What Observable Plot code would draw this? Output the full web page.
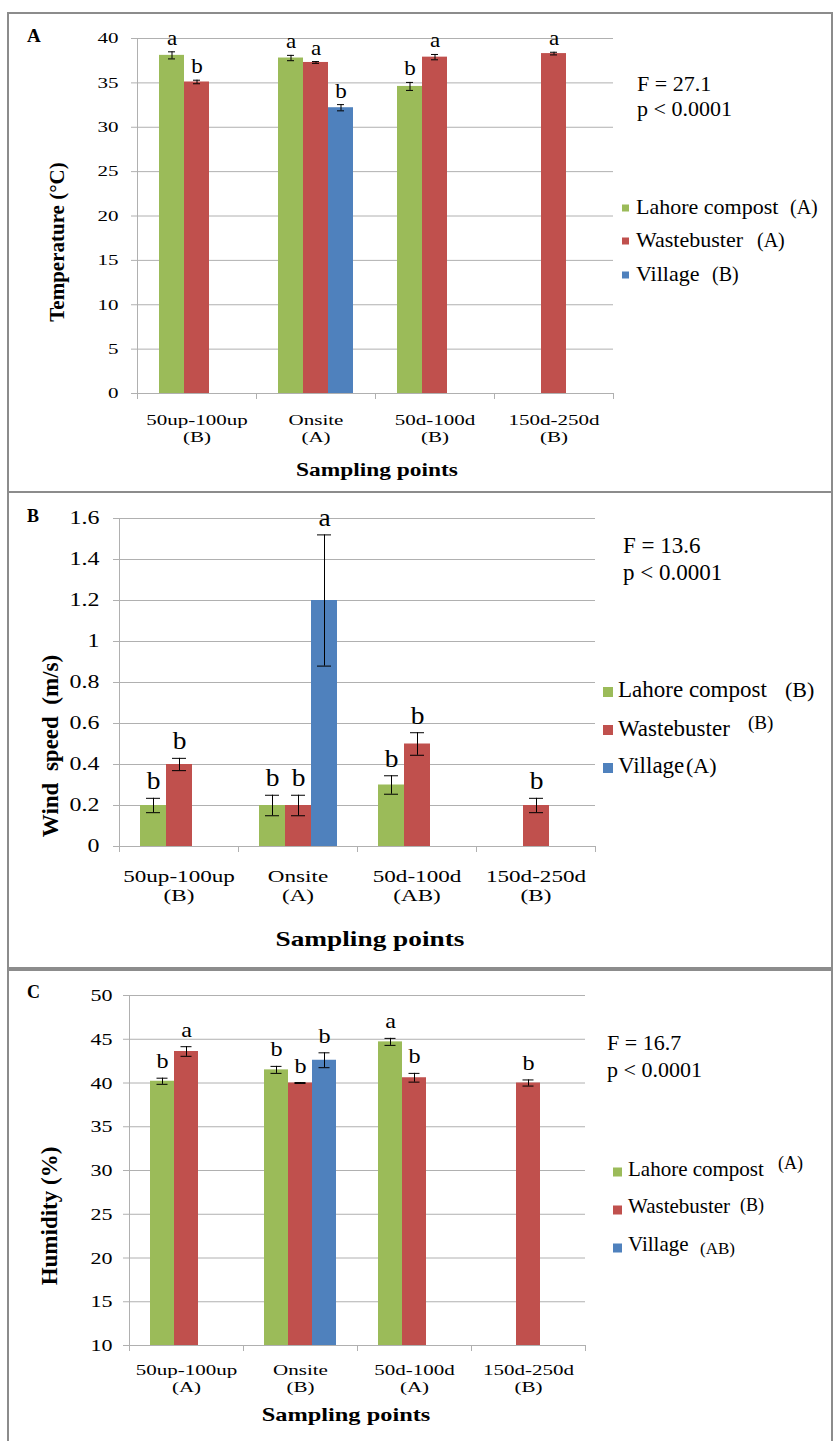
<!DOCTYPE html>
<html><head><meta charset="utf-8">
<script src="https://cdn.jsdelivr.net/npm/d3@7"></script>
<script src="https://cdn.jsdelivr.net/npm/@observablehq/plot@0.6"></script>
<style>
html,body{margin:0;padding:0;background:#fff;}
#root{position:relative;width:834px;height:1441px;overflow:hidden;background:#fff;}
</style></head><body><div id="root"></div>
<script>
// ---------- shared ----------
const categories = ["50up-100up", "Onsite", "50d-100d", "150d-250d"];
const seriesNames = ["Lahore compost", "Wastebuster", "Village"];
const seriesColors = ["#9BBB59", "#C0504D", "#4F81BD"];

// ---------- Panel A : temperature ----------
const tempLahore = [38.1, 37.8, 34.6, null];
const tempWaste = [35.1, 37.3, 37.9, 38.3];
const tempVillage = [null, 32.2, null, null];
const tempLahoreSE = [0.4, 0.3, 0.45, null];
const tempWasteSE = [0.2, 0.1, 0.3, 0.15];
const tempVillageSE = [null, 0.35, null, null];
const tempLahoreSig = ["a", "a", "b", null];
const tempWasteSig = ["b", "a", "a", "a"];
const tempVillageSig = [null, "b", null, null];
const tempSiteGroups = ["(B)", "(A)", "(B)", "(B)"];
const tempSeriesGroups = ["(A)", "(A)", "(B)"];
const tempTicks = [0, 5, 10, 15, 20, 25, 30, 35, 40];
const tempStats = ["F = 27.1", "p < 0.0001"];
const tempTitle = "Temperature (\u00B0C)";

// ---------- Panel B : wind speed ----------
const windLahore = [0.2, 0.2, 0.3, null];
const windWaste = [0.4, 0.2, 0.5, 0.2];
const windVillage = [null, 1.2, null, null];
const windLahoreSE = [0.035, 0.05, 0.045, null];
const windWasteSE = [0.03, 0.05, 0.055, 0.035];
const windVillageSE = [null, 0.32, null, null];
const windLahoreSig = ["b", "b", "b", null];
const windWasteSig = ["b", "b", "b", "b"];
const windVillageSig = [null, "a", null, null];
const windSiteGroups = ["(B)", "(A)", "(AB)", "(B)"];
const windSeriesGroups = ["(B)", "(B)", "(A)"];
const windTicks = [0, 0.2, 0.4, 0.6, 0.8, 1, 1.2, 1.4, 1.6];
const windStats = ["F = 13.6", "p < 0.0001"];
const windTitle = "Wind\u00A0\u00A0speed\u00A0\u00A0(m/s)";

// ---------- Panel C : humidity ----------
const humLahore = [40.2, 41.5, 44.7, null];
const humWaste = [43.6, 40.0, 40.6, 40.0];
const humVillage = [null, 42.6, null, null];
const humLahoreSE = [0.35, 0.4, 0.4, null];
const humWasteSE = [0.55, 0.05, 0.5, 0.35];
const humVillageSE = [null, 0.85, null, null];
const humLahoreSig = ["b", "b", "a", null];
const humWasteSig = ["a", "b", "b", "b"];
const humVillageSig = [null, "b", null, null];
const humSiteGroups = ["(A)", "(B)", "(A)", "(B)"];
const humSeriesGroups = ["(A)", "(B)", "(AB)"];
const humTicks = [10, 15, 20, 25, 30, 35, 40, 45, 50];
const humStats = ["F = 16.7", "p < 0.0001"];
const humTitle = "Humidity (%)";

const xTitle = "Sampling points";
const panelLetters = ["A", "B", "C"];

// ---------- helpers ----------
const GRID = "#b0b0b0";
const FONT = "'Liberation Serif','Times New Roman',serif";
const root = document.getElementById("root");

function buildRows(vals, errs, sigs) {
  const out = [];
  seriesNames.forEach((s, si) => categories.forEach((c, ci) => {
    const v = vals[si][ci];
    if (v == null) return;
    out.push({cat: c, series: s, value: v, err: errs[si][ci], sig: sigs[si][ci]});
  }));
  return out;
}

function stretchNode(n, f) {
  const len = n.getComputedTextLength();
  if (len > 0) {
    n.setAttribute("textLength", (len * f).toFixed(2));
    n.setAttribute("lengthAdjust", "spacingAndGlyphs");
  }
}
function stretchTexts(svg, label, f) {
  svg.querySelectorAll(`g[aria-label="${label}"] text`).forEach(t => {
    const spans = t.querySelectorAll("tspan");
    if (spans.length) spans.forEach(s => stretchNode(s, f));
    else stretchNode(t, f);
  });
}

function makePanel(cfg) {
  const data = cfg.rows;
  const labelMap = new Map(categories.map((c, i) => [c, c + "\n" + cfg.siteGroups[i]]));
  const lo = d => d.value - d.err, hi = d => d.value + d.err;
  const chart = Plot.plot({
    width: 834, height: cfg.height,
    marginLeft: cfg.ml, marginRight: cfg.mr, marginTop: cfg.mt, marginBottom: cfg.mb,
    style: {fontFamily: FONT, background: "transparent", color: "#000"},
    fx: {domain: categories, padding: 0, label: null},
    x: {domain: seriesNames, paddingInner: 0, paddingOuter: cfg.po, axis: null},
    y: {domain: cfg.domain, label: null},
    color: {domain: seriesNames, range: seriesColors},
    marks: [
      Plot.gridY({ticks: cfg.ticks, stroke: GRID, strokeOpacity: 1}),
      Plot.barY(data, {fx: "cat", x: "series", y1: cfg.domain[0], y2: "value", fill: "series"}),
      Plot.ruleY([cfg.domain[0]], {stroke: GRID}),
      Plot.ruleX(data, {fx: "cat", x: "series", y1: lo, y2: hi, stroke: "#000", strokeWidth: 1}),
      Plot.tickY(data, {fx: "cat", x: "series", y: hi, stroke: "#000", insetLeft: cfg.cap, insetRight: cfg.cap}),
      Plot.tickY(data, {fx: "cat", x: "series", y: lo, stroke: "#000", insetLeft: cfg.cap, insetRight: cfg.cap}),
      Plot.text(data.filter(d => d.sig), {fx: "cat", x: "series", y: hi, text: "sig", lineAnchor: "bottom",
        dy: cfg.letterDy, fontSize: cfg.letterSize, fill: "#000"}),
      Plot.axisY({ticks: cfg.ticks, tickSize: 6, tickPadding: cfg.yPad, fontSize: cfg.yFont,
        stroke: GRID, fill: "#000", label: null, tickFormat: d => String(d)}),
      Plot.axisFx({anchor: "bottom", tickSize: 0, tickPadding: cfg.xPad, fontSize: cfg.xFont,
        lineHeight: cfg.xLH, fill: "#000", label: null, tickFormat: d => labelMap.get(d)})
    ]
  });
  chart.style.position = "absolute";
  chart.style.left = "0px";
  chart.style.top = cfg.top + "px";
  root.appendChild(chart);

  // axis line on the left + category boundary ticks (Excel style), from the chart's own scales
  const fx = chart.scale("fx"), y = chart.scale("y");
  const fxAt = c => fx.apply ? fx.apply(c) : fx.range[0] + categories.indexOf(c) * fx.step;
  const y0 = y.apply(cfg.domain[0]), y1 = y.apply(cfg.domain[1]);
  const xs = categories.map(fxAt);
  xs.push(xs[xs.length - 1] + fx.bandwidth);
  const g = d3.select(chart).append("g").attr("stroke", GRID).attr("stroke-width", 1);
  g.append("line").attr("x1", xs[0] + 0.5).attr("x2", xs[0] + 0.5).attr("y1", y1).attr("y2", y0);
  xs.forEach(x => g.append("line").attr("x1", x + 0.5).attr("x2", x + 0.5).attr("y1", y0).attr("y2", y0 + 6));

  stretchTexts(chart, "y-axis tick label", cfg.yStretch);
  stretchTexts(chart, "fx-axis tick label", cfg.xStretch);
  stretchTexts(chart, "text", 1.1);
  return chart;
}

makePanel({
  rows: buildRows([tempLahore, tempWaste, tempVillage], [tempLahoreSE, tempWasteSE, tempVillageSE],
                  [tempLahoreSig, tempWasteSig, tempVillageSig]),
  siteGroups: tempSiteGroups, ticks: tempTicks, domain: [0, 40],
  top: 0, height: 492, ml: 137, mr: 221, mt: 38, mb: 99, po: 0.79, cap: 9,
  letterSize: 21, letterDy: -7, yFont: 15, yPad: 13, yStretch: 1.4,
  xFont: 15, xPad: 20, xLH: 1.1, xStretch: 1.4
});
makePanel({
  rows: buildRows([windLahore, windWaste, windVillage], [windLahoreSE, windWasteSE, windVillageSE],
                  [windLahoreSig, windWasteSig, windVillageSig]),
  siteGroups: windSiteGroups, ticks: windTicks, domain: [0, 1.6],
  top: 492, height: 476, ml: 117, mr: 238, mt: 26, mb: 122, po: 0.72, cap: 6,
  letterSize: 25, letterDy: -9, yFont: 18, yPad: 14, yStretch: 1.33,
  xFont: 16.5, xPad: 23, xLH: 1.1, xStretch: 1.4
});
makePanel({
  rows: buildRows([humLahore, humWaste, humVillage], [humLahoreSE, humWasteSE, humVillageSE],
                  [humLahoreSig, humWasteSig, humVillageSig]),
  siteGroups: humSiteGroups, ticks: humTicks, domain: [10, 50],
  top: 968, height: 473, ml: 127, mr: 248, mt: 27, mb: 96, po: 0.8, cap: 6.5,
  letterSize: 22, letterDy: -10, yFont: 17.5, yPad: 11, yStretch: 1.26,
  xFont: 15, xPad: 18, xLH: 1.1, xStretch: 1.4
});

// ---------- annotations overlay (borders, titles, legends, statistics) ----------
const ov = d3.select(root).append("svg").attr("width", 834).attr("height", 1441)
  .style("position", "absolute").style("left", "0px").style("top", "0px")
  .style("pointer-events", "none").style("font-family", FONT);

function txt(x, y, s, o = {}) {
  const t = ov.append("text").attr("x", x).attr("y", y).text(s)
    .attr("font-size", o.size || 16).attr("fill", "#000")
    .attr("font-weight", o.bold ? "bold" : null)
    .attr("text-anchor", o.anchor || "start").style("white-space", "pre");
  if (o.rotate) t.attr("transform", `rotate(-90 ${x} ${y})`).attr("dominant-baseline", "central");
  if (o.stretch) stretchNode(t.node(), o.stretch);
  return t;
}

// panel borders
[[13, 492], [492, 968], [970, 1450]].forEach(([t, b]) => {
  ov.append("rect").attr("x", 8).attr("y", t).attr("width", 824).attr("height", b - t)
    .attr("fill", "none").attr("stroke", "#8c8c8c").attr("stroke-width", 2);
});

// panel letters
txt(27, 42, panelLetters[0], {size: 19, bold: true});
txt(27, 522, panelLetters[1], {size: 18, bold: true});
txt(27, 998, panelLetters[2], {size: 18, bold: true});

// y titles
txt(57, 242, tempTitle, {size: 21, bold: true, rotate: true, anchor: "middle"});
txt(50, 746, windTitle, {size: 23, bold: true, rotate: true, anchor: "middle"});
txt(49, 1216, humTitle, {size: 23, bold: true, rotate: true, anchor: "middle"});

// x titles
txt(377, 476, xTitle, {size: 18, bold: true, anchor: "middle", stretch: 1.3});
txt(370, 946, xTitle, {size: 21, bold: true, anchor: "middle", stretch: 1.3});
txt(346, 1421, xTitle, {size: 19.5, bold: true, anchor: "middle", stretch: 1.25});

// statistics
txt(637, 91, tempStats[0], {size: 22}); txt(637, 116, tempStats[1], {size: 22});
txt(623, 553, windStats[0], {size: 23}); txt(623, 580, windStats[1], {size: 23});
txt(607, 1050, humStats[0], {size: 22}); txt(607, 1077, humStats[1], {size: 22});

// legends
function legend(L, groups) {
  seriesNames.forEach((s, i) => {
    ov.append("rect").attr("x", L.sx).attr("y", L.cy[i] - L.ss / 2).attr("width", L.ss).attr("height", L.ss)
      .attr("fill", seriesColors[i]);
    txt(L.tx, L.base[i], s, {size: L.size});
    txt(L.gx[i], L.gBase[i], groups[i], {size: L.gSize[i]});
  });
}
legend({sx: 622, ss: 7, cy: [208, 241, 275], tx: 636, base: [214, 247, 281], size: 22,
        gx: [790, 757, 712], gBase: [214, 247, 281], gSize: [20, 20, 20]}, tempSeriesGroups);
legend({sx: 603, ss: 10, cy: [692, 730, 768], tx: 618, base: [697, 736, 773], size: 23,
        gx: [785, 748, 686], gBase: [697, 729, 773], gSize: [22, 19, 22]}, windSeriesGroups);
legend({sx: 613, ss: 9, cy: [1172, 1210, 1248], tx: 628, base: [1176, 1213, 1251], size: 21,
        gx: [778, 740, 700], gBase: [1169, 1211, 1254], gSize: [18, 18, 17]}, humSeriesGroups);
</script>
</body></html>
